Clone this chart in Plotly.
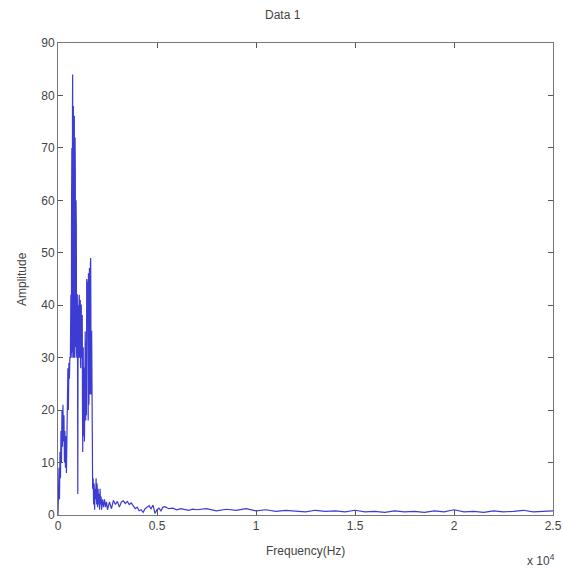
import plotly.graph_objects as go

# Frequency (Hz) and amplitude
freq_low = [0, 25, 50, 75, 100, 125, 150, 175, 200, 225, 250, 275, 300, 325, 350, 375,
            400, 425, 450, 475, 500, 525, 550, 575, 600, 625, 650, 662, 675, 687,
            700, 712, 725, 732, 740, 750, 760, 767, 775, 787, 800, 812, 825, 837,
            850, 862, 875, 887, 900, 912, 925, 937, 950, 962, 975, 987, 1000,
            1012, 1025, 1037, 1050, 1062, 1075, 1087, 1100, 1112, 1125, 1137, 1150,
            1162, 1175, 1187, 1200, 1212, 1225, 1237, 1250, 1262, 1275, 1287, 1300,
            1312, 1325, 1337, 1350, 1362, 1375, 1387, 1400, 1412, 1425, 1437, 1450,
            1462, 1475, 1487, 1500, 1512, 1525, 1537, 1550, 1562, 1575, 1587, 1600,
            1612, 1625, 1637, 1650, 1662, 1675, 1687, 1700, 1712, 1725, 1750, 1775,
            1800, 1825, 1850, 1875, 1900, 1925, 1950, 1975,
            2000, 2025, 2050, 2075, 2100, 2125, 2150, 2175, 2200, 2250, 2300, 2350,
            2400, 2450, 2500]
amp_low = [0, 5, 9, 3, 12, 7, 16, 10, 20, 13, 21, 14, 19, 10, 16, 9,
           15, 8, 20, 22, 28, 20, 29, 26, 30, 30, 42, 30, 31, 60,
           70, 31, 33, 78, 84, 30, 31, 77, 78, 30, 32, 76, 76, 31,
           30, 72, 65, 32, 35, 60, 55, 31, 30, 42, 42, 30, 4,
           30, 40, 31, 30, 41, 42, 30, 31, 40, 41, 29, 28, 40,
           40, 30, 30, 38, 38, 20, 12, 30, 32, 16, 15, 28,
           28, 14, 22, 33, 35, 20, 18, 33, 33, 19, 45,
           20, 20, 44, 44, 19, 18, 46, 46, 21, 22, 47, 47,
           23, 25, 48, 49, 24, 23, 35, 35, 23, 24, 5, 7,
           2, 6, 1, 5, 3, 7, 2, 6,
           1.5, 5, 2, 4, 1, 5, 2, 3.5, 1, 3, 1.5, 3,
           1.5, 2.5, 1]

freq_mid = [2600, 2700, 2800, 2900, 3000, 3100, 3200, 3300, 3400, 3500, 3600, 3700,
            3800, 3900, 4000, 4100, 4200, 4300, 4400, 4500, 4600, 4700, 4800, 4900,
            5000, 5100, 5200, 5300, 5400, 5500, 5600, 5800, 6000, 6200, 6400, 6600,
            6800, 7000]
amp_mid = [2.5, 1.2, 2.8, 2.0, 2.6, 1.5, 2.5, 2.7, 2.2, 2.6, 2.0, 2.3,
           1.6, 1.2, 1.5, 0.8, 1.0, 0.5, 1.2, 1.6, 1.8, 1.2, 1.9, 0.3,
           1.0, 1.3, 0.8, 1.5, 1.6, 1.4, 1.2, 1.3, 1.0, 1.2, 1.0, 0.9,
           1.1, 1.0]

freq_high = [7500, 8000, 8500, 9000, 9500, 10000, 10500, 11000, 11500, 12000, 12500,
             13000, 13500, 14000, 14500, 15000, 15500, 16000, 16500, 17000, 17500,
             18000, 18500, 19000, 19500, 20000, 20500, 21000, 21500, 22000, 22500,
             23000, 23500, 24000, 24500, 25000]
amp_high = [1.2, 0.8, 1.1, 0.9, 1.2, 0.8, 1.0, 0.7, 0.9, 0.8, 0.6, 0.9, 0.7, 0.8,
            0.6, 0.9, 0.6, 0.7, 0.5, 0.8, 0.6, 0.7, 0.5, 0.8, 0.6, 1.0, 0.6, 0.7,
            0.5, 0.8, 0.6, 0.7, 0.9, 0.6, 0.7, 0.8]

freq = freq_low + freq_mid + freq_high
amp = amp_low + amp_mid + amp_high

x_tickvals = [0, 5000, 10000, 15000, 20000, 25000]
x_ticktext = ["0", "0.5", "1", "1.5", "2", "2.5"]
y_tickvals = [0, 10, 20, 30, 40, 50, 60, 70, 80, 90]

font = dict(family="Liberation Sans, Arial, sans-serif", size=12, color="#444")

fig = go.Figure()
fig.add_trace(go.Scatter(x=freq, y=amp, mode="lines",
                         line=dict(color="rgb(60,60,210)", width=1.2)))

axis_common = dict(showline=True, linecolor="#777", linewidth=1, mirror="ticks",
                   ticks="inside", ticklen=5, tickcolor="#555", showgrid=False,
                   zeroline=False, tickfont=font, automargin=False)

fig.update_layout(
    width=563, height=571,
    margin=dict(l=58, r=10, t=43, b=56, autoexpand=False),
    paper_bgcolor="white", plot_bgcolor="white",
    showlegend=False,
    xaxis=dict(range=[0, 25000], tickvals=x_tickvals, ticktext=x_ticktext,
               **axis_common),
    yaxis=dict(range=[0, 90], tickvals=y_tickvals, **axis_common),
    annotations=[
        dict(text="Data 1", xref="paper", yref="paper", x=0.455, y=1.0, yshift=28,
             xanchor="center", yanchor="middle", showarrow=False, font=font),
        dict(text="Frequency(Hz)", xref="paper", yref="paper", x=0.5, y=0.0, yshift=-36,
             xanchor="center", yanchor="middle", showarrow=False, font=font),
        dict(text="Amplitude", xref="paper", yref="paper", x=0.0, y=0.5, xshift=-36,
             xanchor="center", yanchor="middle", textangle=-90, showarrow=False,
             font=font),
        dict(text="x 10<sup>4</sup>", xref="paper", yref="paper", x=1.0, y=0.0,
             yshift=-45, xshift=4, xanchor="right", yanchor="middle",
             showarrow=False, font=font),
    ],
)

fig.write_html("out.html", config={"displayModeBar": False},
               post_script="document.body.style.margin='0';document.body.style.overflow='hidden';")
